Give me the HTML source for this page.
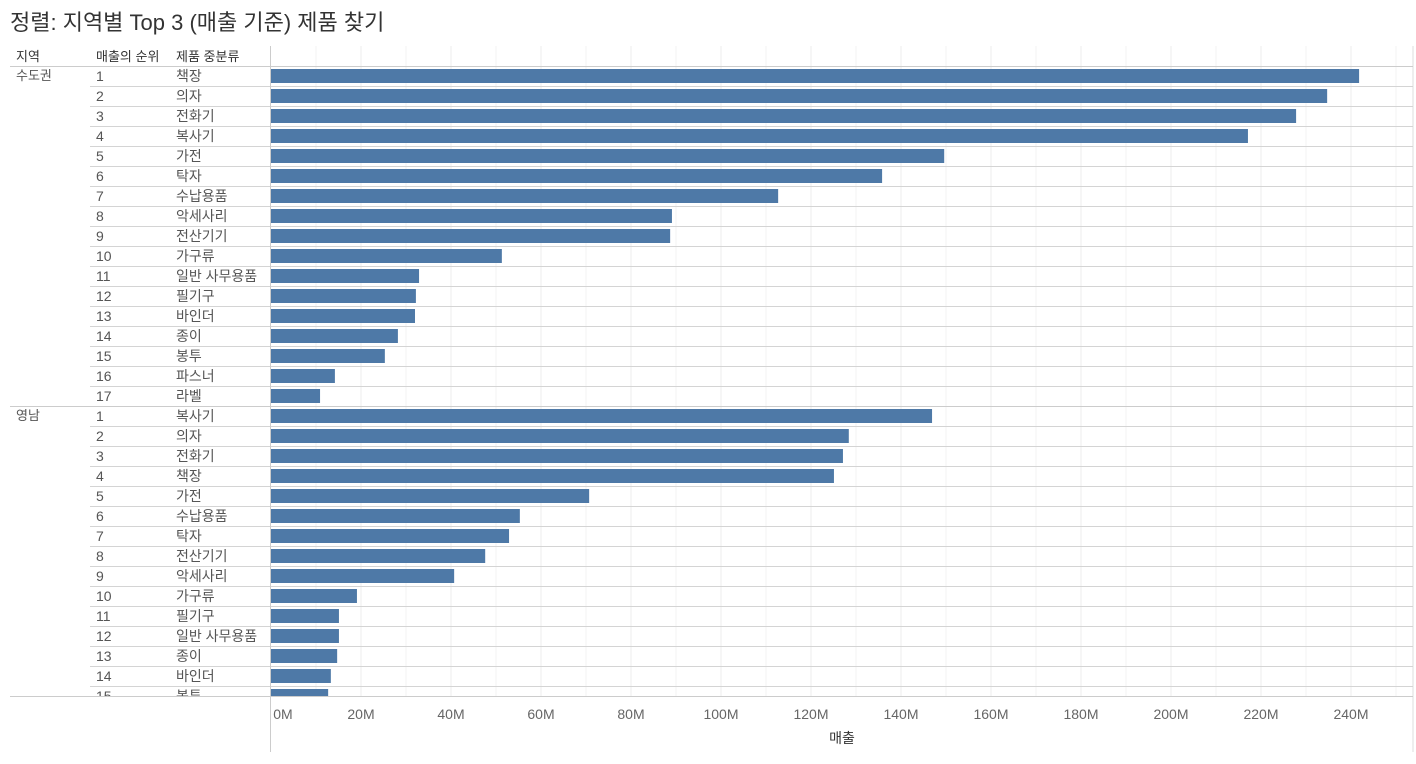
<!DOCTYPE html>
<html><head><meta charset="utf-8"><style>
body{margin:0;background:#fff;font-family:"Liberation Sans","Noto Sans CJK KR",sans-serif;}
svg text{font-family:"Liberation Sans","Noto Sans CJK KR",sans-serif;}
</style></head><body>
<svg id="c" width="1416" height="759">
<text x="10" y="30" font-size="22" fill="#333">정렬: 지역별 Top 3 (매출 기준) 제품 찾기</text>
<text x="16" y="61" font-size="13" fill="#333">지역</text>
<text x="96" y="61" font-size="13" fill="#333">매출의 순위</text>
<text x="176" y="61" font-size="13" fill="#333">제품 중분류</text>
<g id="grid"></g><g id="rows"></g><g id="bars"></g><g id="axis"></g>
</svg>
<script>
const regions=["수도권","영남"];
const cats1=["책장","의자","전화기","복사기","가전","탁자","수납용품","악세사리","전산기기","가구류","일반 사무용품","필기구","바인더","종이","봉투","파스너","라벨"];
const vals1=[241.8,234.7,227.8,217.1,149.6,135.8,112.7,89.1,88.7,51.3,32.9,32.2,32.0,28.2,25.3,14.2,10.9];
const cats2=["복사기","의자","전화기","책장","가전","수납용품","탁자","전산기기","악세사리","가구류","필기구","일반 사무용품","종이","바인더","봉투"];
const vals2=[146.9,128.4,127.1,125.1,70.7,55.3,52.9,47.6,40.7,19.1,15.1,15.1,14.7,13.3,12.7];
const ticks=[0,20,40,60,80,100,120,140,160,180,200,220,240];
const NS="http://www.w3.org/2000/svg";
const x0=271,pxPerM=4.5,top0=66,rowH=20,clipY=696;
const xs=v=>x0+v*pxPerM;
function mk(p,tag,a,txt){const e=document.createElementNS(NS,tag);for(const k in a)e.setAttribute(k,a[k]);if(txt!==undefined)e.textContent=txt;document.getElementById(p).appendChild(e);return e;}
// grid
for(let v=0;v<=250;v+=10){if(v===0)continue;const g=mk('grid','line',{x1:xs(v),x2:xs(v),y1:46,y2:clipY,stroke:v%20===0?'#ececec':'#f3f3f3','stroke-width':1});

}
mk('grid','line',{x1:1413,x2:1413,y1:46,y2:752,stroke:'#ddd'});
mk('grid','line',{x1:10,x2:1413,y1:66.5,y2:66.5,stroke:'#ccc'});
const groups=[[cats1,vals1],[cats2,vals2]];
let r=0;
groups.forEach((g,gi)=>{
 const y=top0+r*rowH;
 if(y<clipY){const t=mk('rows','text',{x:16,y:y+14,'font-size':13,fill:'#555'},regions[gi]);
 
 
 if(gi>0)mk('rows','line',{x1:10,x2:1413,y1:y+0.5,y2:y+0.5,stroke:'#ccc'});}
 g[0].forEach((c,i)=>{
  const ty=top0+r*rowH;r++;
  if(ty>=clipY)return;
  const h=Math.min(rowH,clipY-ty);
  const cl='cl'+r;
  const cp=mk('rows','clipPath',{id:cl});
  const rc=document.createElementNS(NS,'rect');rc.setAttribute('x',0);rc.setAttribute('y',ty);rc.setAttribute('width',1416);rc.setAttribute('height',h);cp.appendChild(rc);
  const n=mk('rows','text',{x:96,y:ty+15,'font-size':14,fill:'#555','clip-path':`url(#${cl})`},String(i+1));
  
  
  const l=mk('rows','text',{x:176,y:ty+15,'font-size':14,fill:'#555','clip-path':`url(#${cl})`},c);
  
  
  if(i>0)mk('rows','line',{x1:90,x2:1413,y1:ty+0.5,y2:ty+0.5,stroke:'#d4d4d4'});
  const b=mk('bars','rect',{x:x0,y:ty+3,width:xs(g[1][i])-x0,height:Math.min(14,clipY-(ty+3)),fill:'#4e79a7'});
  
  
 });
});
mk('axis','line',{x1:10,x2:1413,y1:clipY+0.5,y2:clipY+0.5,stroke:'#ccc'});
mk('axis','line',{x1:270.5,x2:270.5,y1:46,y2:752,stroke:'#ccc'});
ticks.forEach(v=>{const t=mk('axis','text',{x:xs(v)+(v===0?12:0),y:719,'font-size':14,fill:'#666','text-anchor':'middle'},v+'M');

});
const at=mk('axis','text',{x:842,y:743,'font-size':14,fill:'#333','text-anchor':'middle'},'매출');


</script>
</body></html>
